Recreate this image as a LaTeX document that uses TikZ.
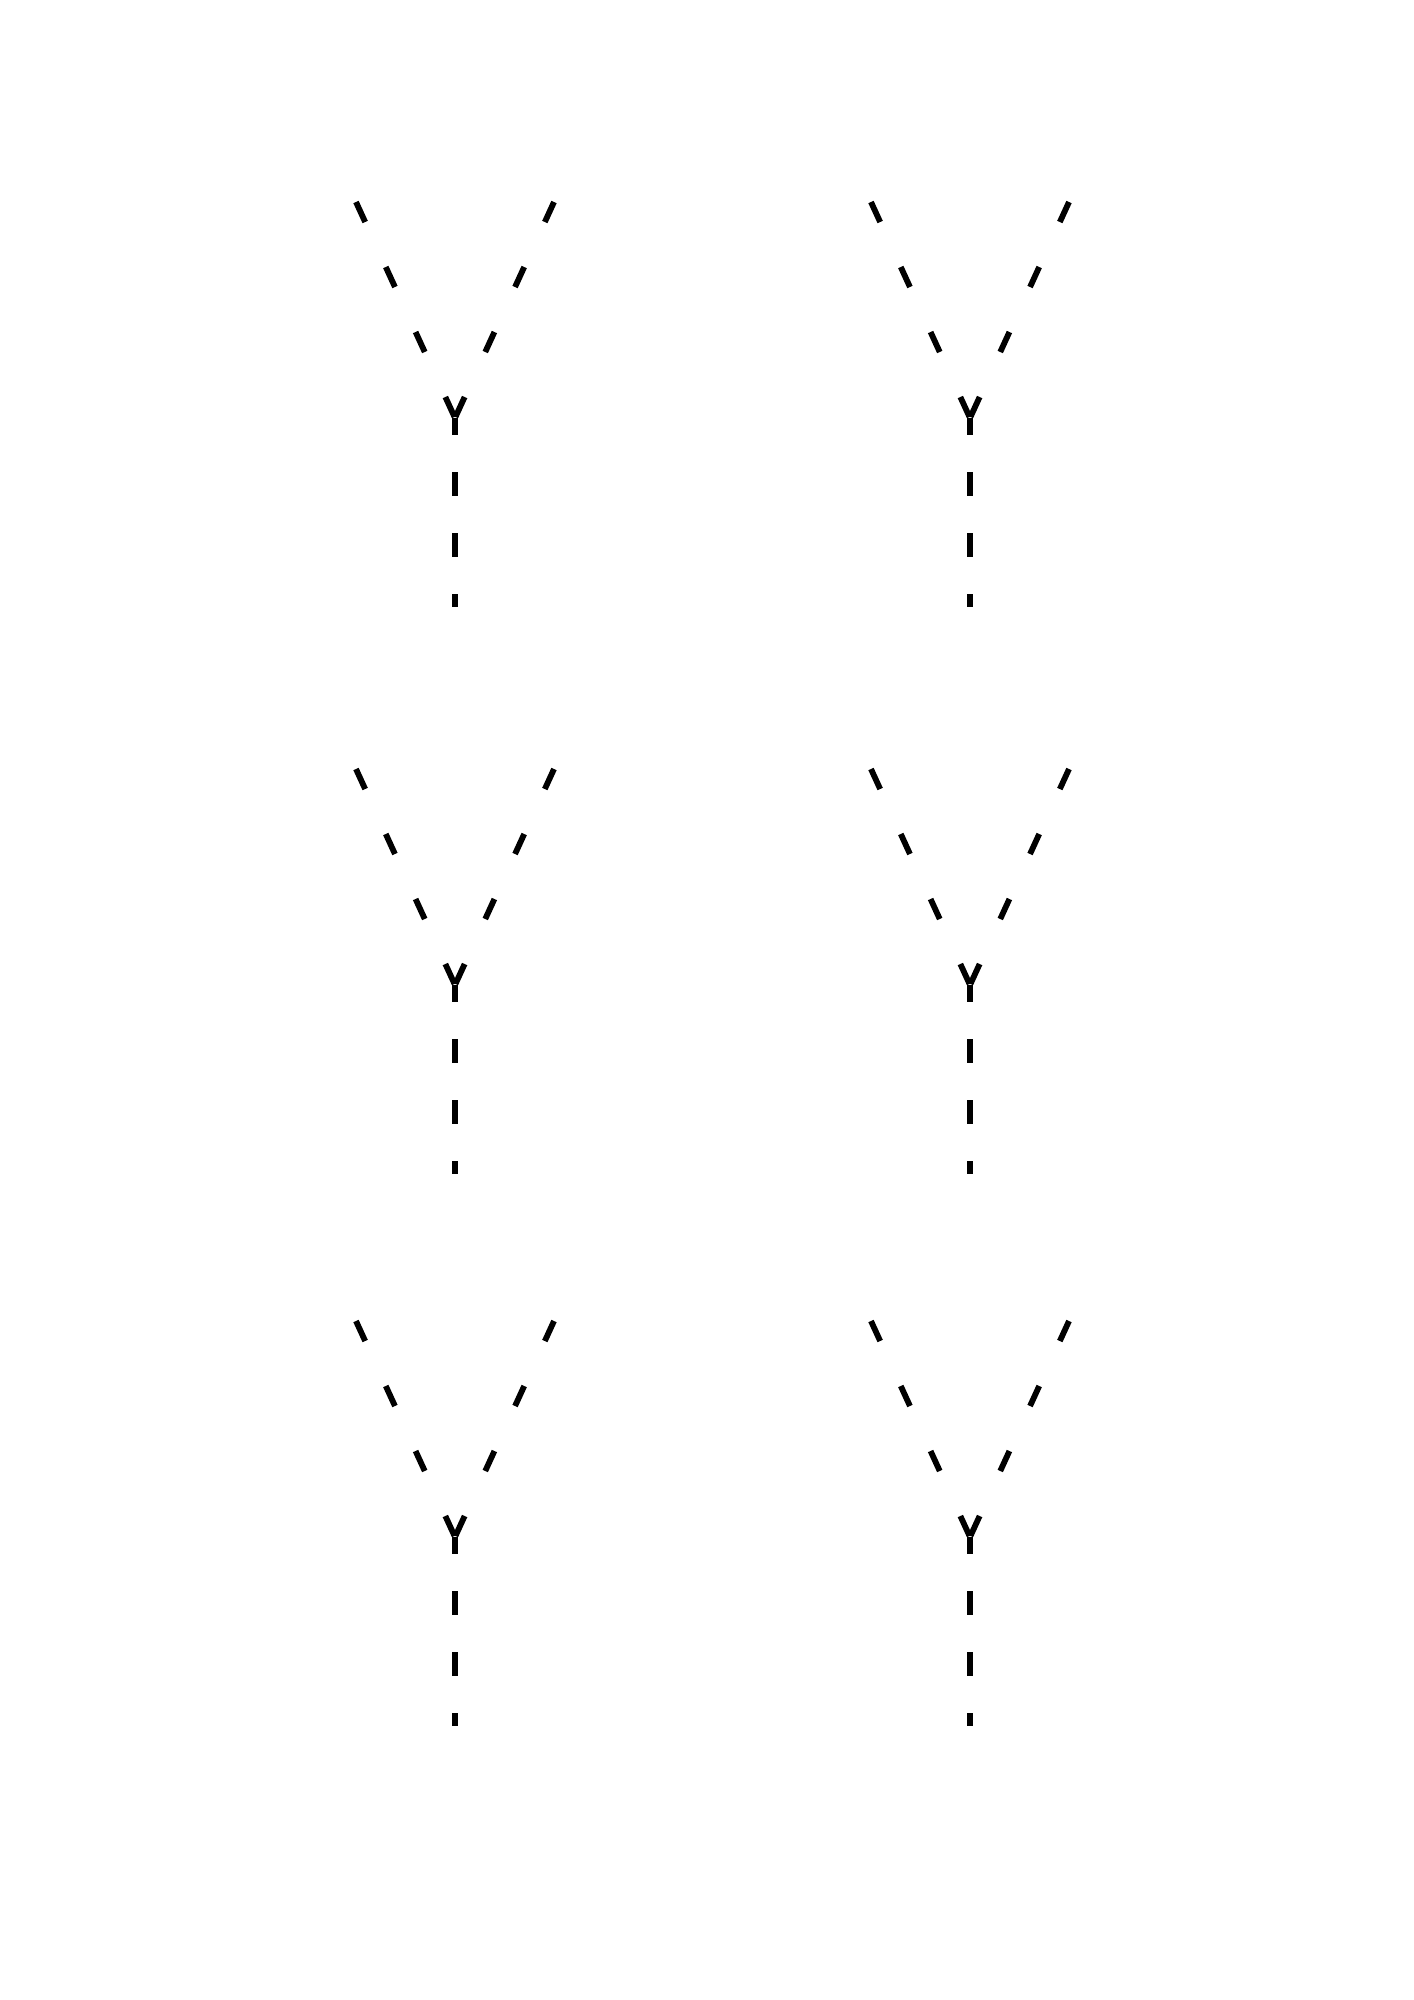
\documentclass[tikz,border=0pt]{standalone}
\usepackage{tikz}

\begin{document}
\begin{tikzpicture}[x=0.1mm, y=-0.1mm]

			\tikzstyle{arm}=[line width=0.58mm, dash pattern=on 2.2mm off 4.95mm]
			\tikzstyle{stem}=[line width=0.58mm, dash pattern=on 2.4mm off 3.7mm, dash phase=0.7mm]

			\useasboundingbox (0,0) rectangle (1414,2000);

			\foreach \x in {455, 970} {
				\foreach \y in {418, 985, 1537} {
					\coordinate (fork) at (\x,\y);
					\coordinate (left) at (\x-99,\y-216);
					\coordinate (right) at (\x+99,\y-216);
					\coordinate (foot) at (\x,\y+189);
					\draw[arm] (left) -- (fork);
					\draw[arm] (right) -- (fork);
					\draw[stem] (fork) -- (foot);
				}
			}
		\end{tikzpicture}
\end{document}
